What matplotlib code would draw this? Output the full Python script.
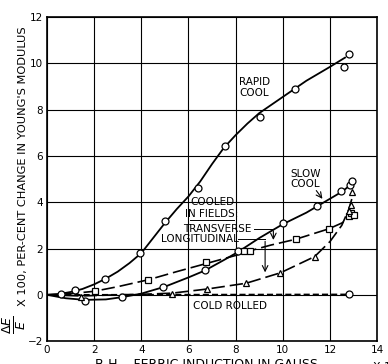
import matplotlib.pyplot as plt

plt.rcParams['font.family'] = ['DejaVu Sans']

rapid_x = [0.6, 1.2, 2.45, 3.95, 5.0, 6.4, 7.55, 9.05, 10.5, 12.6, 12.8]
rapid_y = [0.05, 0.2, 0.7, 1.8, 3.2, 4.6, 6.45, 7.7, 8.9, 9.85, 10.4]
slow_x = [1.6, 3.2, 4.9, 6.7, 8.1, 10.0, 11.45, 12.45, 12.85, 12.95]
slow_y = [-0.25, -0.1, 0.35, 1.05, 1.9, 3.1, 3.85, 4.5, 4.75, 4.9]
trans_x = [2.05, 4.3, 6.75, 8.35, 8.6, 10.55, 11.95, 12.8, 12.9, 13.0]
trans_y = [0.15, 0.65, 1.4, 1.9, 1.9, 2.4, 2.85, 3.4, 3.55, 3.45]
long_x = [1.45, 5.3, 6.8, 8.45, 9.9, 11.35, 12.8, 12.9, 12.95]
long_y = [-0.1, 0.05, 0.25, 0.5, 0.95, 1.65, 3.6, 3.9, 4.45]
cold_x = [12.8]
cold_y = [0.02]

# faired curves
rapid_cx = [0, 0.5, 1, 1.5, 2, 2.5, 3, 3.5, 4, 4.5, 5, 5.5, 6, 6.5, 7, 7.5,
            8, 8.5, 9, 9.5, 10, 10.5, 11, 11.5, 12, 12.64]
rapid_cy = [0, 0.03, 0.12, 0.25, 0.45, 0.7, 1.0, 1.37, 1.8, 2.45, 3.1, 3.7,
            4.25, 4.9, 5.65, 6.35, 6.9, 7.4, 7.85, 8.2, 8.55, 8.9, 9.25,
            9.55, 9.85, 10.25]
slow_cx = [0, 0.8, 1.6, 2.5, 3.2, 4, 5, 6, 6.7, 7.5, 8.1, 9, 10, 11, 11.5,
           12, 12.5, 13.0]
slow_cy = [0, -0.15, -0.22, -0.2, -0.1, 0.05, 0.35, 0.75, 1.05, 1.5, 1.85,
           2.45, 3.05, 3.55, 3.85, 4.15, 4.45, 4.85]
trans_cx = [0, 1, 2, 3, 4.3, 5.5, 6.75, 8, 8.6, 9.5, 10.55, 11.95, 12.5, 12.9]
trans_cy = [0, 0.05, 0.15, 0.35, 0.65, 1.0, 1.35, 1.7, 1.9, 2.15, 2.4, 2.85,
            3.1, 3.35]
long_cx = [0, 1.45, 3, 4, 5.3, 6.8, 8.45, 9.9, 11.35, 12, 12.5, 12.8, 13.0]
long_cy = [0, -0.05, 0, 0.02, 0.07, 0.25, 0.5, 0.95, 1.65, 2.3, 3.0, 3.7, 4.4]
cold_cx = [0, 12.8]
cold_cy = [0, 0.02]

xticks = [0, 2, 4, 6, 8, 10, 12, 14]
yticks = [-2, 0, 2, 4, 6, 8, 10, 12]

fig = plt.figure(figsize=(3.88, 3.64), dpi=100)
ax = fig.add_axes([0.121, 0.063, 0.851, 0.890])
ax.set_xlim(0, 14)
ax.set_ylim(-2, 12)
ax.set_xticks(xticks)
ax.set_yticks(yticks)
ax.tick_params(length=0, labelsize=7.5, pad=3)
ax.grid(True, color='black', lw=0.8)
ax.set_axisbelow(True)
for s in ax.spines.values():
    s.set_linewidth(1.2)

mk = dict(marker='o', ms=5, mfc='white', mec='black', mew=0.9, ls='none', zorder=4)
ax.plot(rapid_cx, rapid_cy, color='black', lw=1.3)
ax.plot(slow_cx, slow_cy, color='black', lw=1.3)
ax.plot(trans_cx, trans_cy, color='black', lw=1.2, dashes=(8, 3))
ax.plot(long_cx, long_cy, color='black', lw=1.2, dashes=(8, 3))
ax.plot(cold_cx, cold_cy, color='black', lw=1.1, dashes=(4, 2))
ax.plot(rapid_x, rapid_y, **mk)
ax.plot(slow_x, slow_y, **mk)
ax.plot(cold_x, cold_y, **mk)
ax.plot(trans_x, trans_y, **{**mk, 'marker': 's', 'ms': 4.5})
ax.plot(long_x, long_y, **{**mk, 'marker': '^', 'ms': 4.5})

tk = dict(fontsize=7.5, ha='center', va='center', linespacing=1.1)
ax.text(8.8, 8.95, 'RAPID\nCOOL', **tk)
ax.text(10.95, 5.0, 'SLOW\nCOOL', **tk)
ax.annotate('', xy=(11.75, 4.05), xytext=(11.35, 4.6),
            arrowprops=dict(arrowstyle='->', lw=0.8, color='black'))
ax.text(7.0, 4.0, 'COOLED', **tk)
ax.text(7.0, 3.5, 'IN FIELDS:', **tk)
ax.plot([6.05, 7.95], [3.22, 3.22], color='black', lw=0.7)
ax.plot([7.9, 8.9], [4.0, 4.0], color='black', lw=0.7)
ax.text(7.2, 2.85, 'TRANSVERSE', **tk)
ax.text(6.5, 2.4, 'LONGITUDINAL', **tk)
ax.plot([8.8, 9.6], [2.85, 2.85], color='black', lw=0.7)
ax.annotate('', xy=(9.6, 2.25), xytext=(9.6, 2.88),
            arrowprops=dict(arrowstyle='->', lw=0.8, color='black'))
ax.plot([8.1, 9.25], [2.4, 2.4], color='black', lw=0.7)
ax.annotate('', xy=(9.25, 0.85), xytext=(9.25, 2.43),
            arrowprops=dict(arrowstyle='->', lw=0.8, color='black'))
ax.text(7.75, -0.5, 'COLD ROLLED', **tk)

# y label: fraction drawn on its own, larger, below the words
fig.text(0.060, 0.544, "X 100, PER-CENT CHANGE IN YOUNG'S MODULUS",
         fontsize=8.2, rotation=90, ha='center', va='center')
fig.text(0.036, 0.108, r'$\frac{\Delta E}{E}$', fontsize=13,
         rotation=90, ha='center', va='center')
fig.text(0.245, 0.017, 'B-H,   FERRIC INDUCTION IN GAUSS', fontsize=9, va='top')
fig.text(0.958, 0.017, r'X $10^3$', fontsize=8, va='top')

fig.savefig('out.png', dpi=100)
